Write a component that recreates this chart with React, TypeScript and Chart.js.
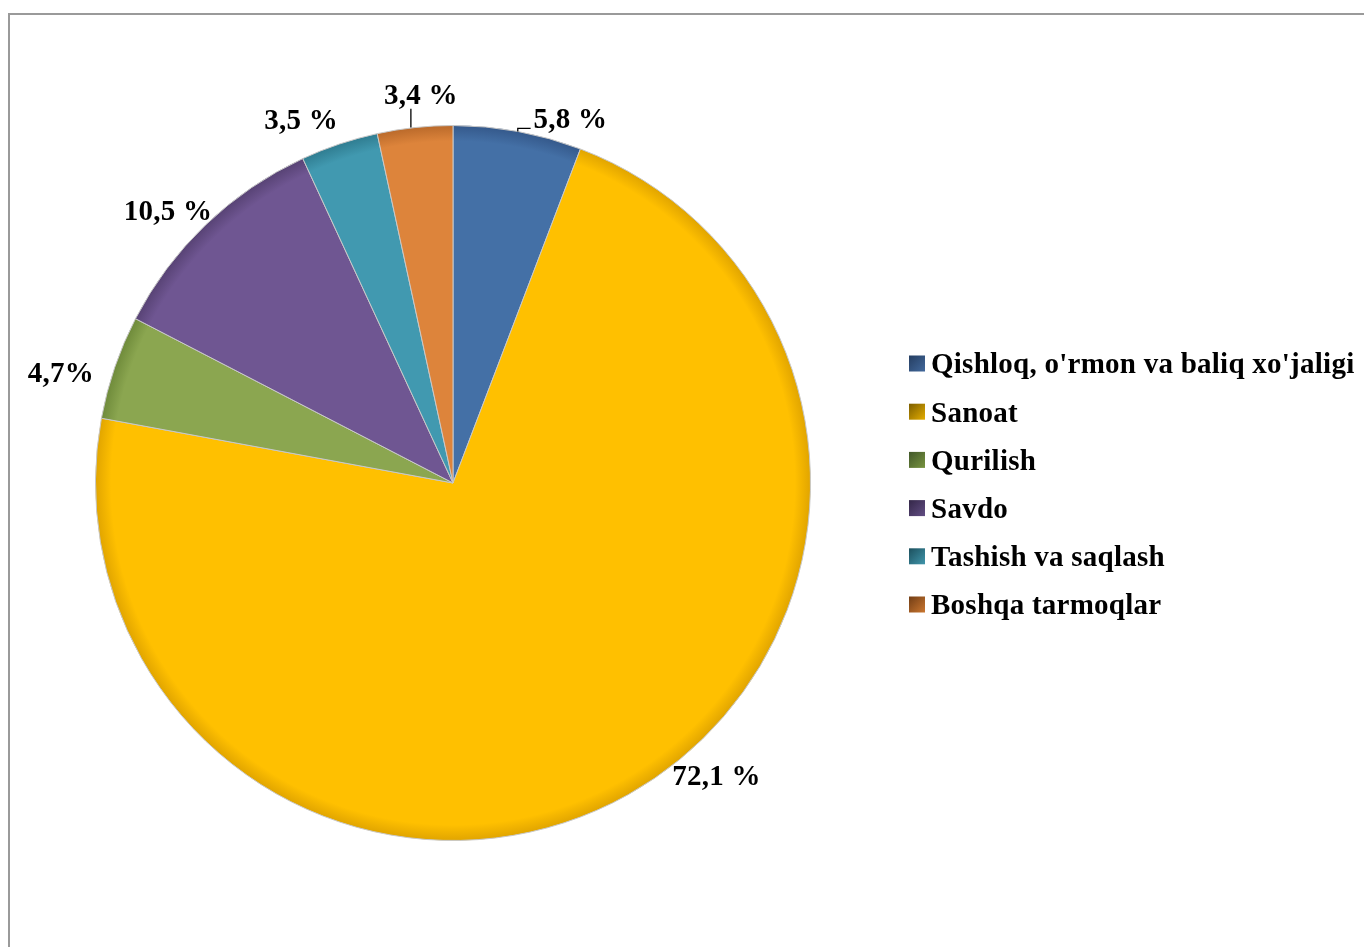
import React, { useEffect, useRef } from "react";
import { Chart, registerables } from "chart.js";

Chart.register(...registerables);

const categories = [
  "Qishloq, o'rmon va baliq xo'jaligi",
  "Sanoat",
  "Qurilish",
  "Savdo",
  "Tashish va saqlash",
  "Boshqa tarmoqlar",
];
const shares = [5.8, 72.1, 4.7, 10.5, 3.5, 3.4];
const valueLabels = ["5,8 %", "72,1 %", "4,7%", "10,5 %", "3,5 %", "3,4 %"];

const sliceColors = ["#4470A6", "#FFC000", "#8BA650", "#6F5692", "#4199B0", "#DD843B"];
const sliceRimColors = ["#34588A", "#E0A400", "#6E8A3A", "#574274", "#2F7C90", "#B9692A"];
const legendDark = ["#263F63", "#7F6000", "#43592A", "#35284A", "#1D5260", "#743F16"];
const legendLight = ["#41679A", "#E0AA00", "#76923F", "#614D82", "#3F93A8", "#C8752F"];

// label placement: angular shift (deg) from slice mid-angle, distance beyond rim (px)
const labelAngleShift = [7.4, -12.7, -3.1, -2.5, -4.1, 1.4];
const labelRimGap = [26, 36, 50, 37, 37, 33];
const leaderLines = [true, false, false, false, false, true];

const FONT = "bold 29px 'Liberation Serif', 'Times New Roman', serif";

const overlayPlugin = {
  id: "overlay",
  afterDraw(chart: any) {
    const ctx = chart.ctx as CanvasRenderingContext2D;
    const meta = chart.getDatasetMeta(0);
    ctx.save();
    ctx.font = FONT;
    ctx.fillStyle = "#000";
    ctx.strokeStyle = "#000";
    ctx.lineWidth = 1.3;
    (ctx as any).letterSpacing = "0.25px";
    meta.data.forEach((arc: any, i: number) => {
      const { x, y, startAngle, endAngle, outerRadius } = arc.getProps(
        ["x", "y", "startAngle", "endAngle", "outerRadius"],
        true
      );
      const mid = (startAngle + endAngle) / 2;
      const a = mid + (labelAngleShift[i] * Math.PI) / 180;
      const d = outerRadius + labelRimGap[i];
      const lx = x + Math.cos(a) * d;
      const ly = y + Math.sin(a) * d;
      const txt = valueLabels[i];
      const w = ctx.measureText(txt).width;
      ctx.textAlign = "center";
      ctx.textBaseline = "alphabetic";
      ctx.fillText(txt, lx, ly + 10);
      if (leaderLines[i]) {
        const ex = x + Math.cos(mid) * outerRadius;
        const ey = y + Math.sin(mid) * outerRadius;
        ctx.beginPath();
        if (Math.abs(lx - ex) < w / 2) {
          ctx.moveTo(ex - 4, ey);
          ctx.lineTo(ex - 4, ly + 15);
        } else {
          ctx.moveTo(ex, ey);
          ctx.lineTo(ex, ey - 3);
          ctx.lineTo(lx - w / 2 - 3, ey - 3);
        }
        ctx.stroke();
      }
    });
    // legend
    const lx0 = 909;
    const ly0 = 363.5;
    const pitch = 48.2;
    categories.forEach((c, i) => {
      const cy = ly0 + i * pitch;
      const g = ctx.createLinearGradient(lx0, cy - 7, lx0 + 15, cy + 8);
      g.addColorStop(0, legendDark[i]);
      g.addColorStop(1, legendLight[i]);
      ctx.fillStyle = g;
      ctx.fillRect(lx0, cy - 8, 16, 16);
      ctx.fillStyle = "#000";
      ctx.textAlign = "left";
      ctx.fillText(c, lx0 + 22, cy + 9.8);
    });
    ctx.restore();
  },
};

function sliceFill(context: any) {
  const i = context.dataIndex ?? 0;
  const chart = context.chart;
  const area = chart.chartArea;
  if (!area) return sliceColors[i];
  const cx = (area.left + area.right) / 2;
  const cy = (area.top + area.bottom) / 2;
  const r = Math.min(area.right - area.left, area.bottom - area.top) / 2;
  const g = chart.ctx.createRadialGradient(cx, cy, 0, cx, cy, r);
  g.addColorStop(0, sliceColors[i]);
  g.addColorStop(0.955, sliceColors[i]);
  g.addColorStop(1, sliceRimColors[i]);
  return g;
}

export default function App() {
  const ref = useRef<HTMLCanvasElement | null>(null);
  useEffect(() => {
    if (!ref.current) return;
    const chart = new Chart(ref.current, {
      type: "pie",
      data: {
        labels: categories,
        datasets: [
          {
            data: shares,
            backgroundColor: sliceFill as any,
            borderColor: "#C8C8C8",
            borderWidth: 1,
          },
        ],
      },
      options: {
        animation: false,
        responsive: true,
        maintainAspectRatio: false,
        layout: { padding: { left: 95, right: 553, top: 125, bottom: 106 } },
        plugins: {
          legend: { display: false },
          tooltip: { enabled: false },
        },
      },
      plugins: [overlayPlugin],
    });
    return () => chart.destroy();
  }, []);
  return (
    <div
      style={{
        position: "fixed",
        left: 0,
        top: 0,
        width: 1364,
        height: 947,
        overflow: "hidden",
        background: "#fff",
      }}
    >
      <div
        style={{
          position: "absolute",
          left: 8,
          top: 13,
          width: 2000,
          height: 2000,
          border: "2px solid #9A9A9A",
        }}
      />
      <div style={{ position: "absolute", left: 0, top: 0, width: 1364, height: 947 }}>
        <canvas ref={ref} />
      </div>
    </div>
  );
}
